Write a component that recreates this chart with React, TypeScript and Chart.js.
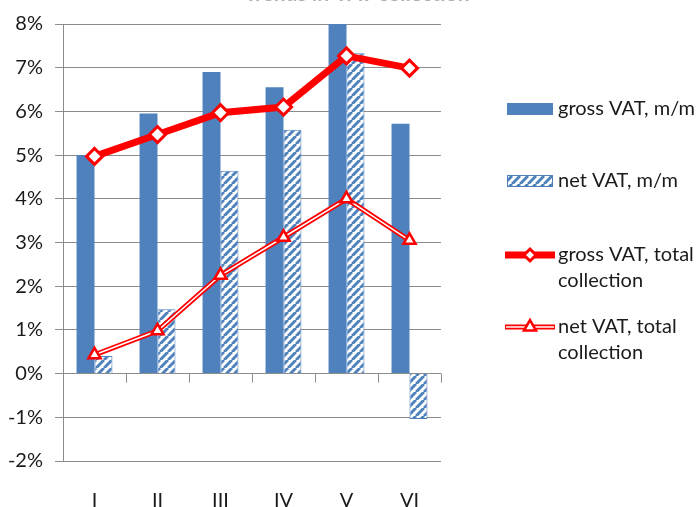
import React, { useEffect, useRef } from 'react';
import { Chart, registerables } from 'chart.js';

Chart.register(...registerables);

const categories = ['I', 'II', 'III', 'IV', 'V', 'VI'];
const grossMM = [5.0, 5.95, 6.9, 6.55, 8.0, 5.72];
const netMM = [0.4, 1.47, 4.64, 5.58, 7.33, -1.04];
const grossTotal = [4.97, 5.47, 5.97, 6.1, 7.27, 6.99];
const netTotal = [0.43, 0.98, 2.25, 3.12, 4.0, 3.05];
const seriesLabels = ['gross VAT, m/m', 'net VAT, m/m', 'gross VAT, total collection', 'net VAT, total collection'];
const legendLines = [['gross VAT, m/m'], ['net VAT, m/m'], ['gross VAT, total', 'collection'], ['net VAT, total', 'collection']];
const titleText = 'Trends in VAT collection';

const BLUE = '#4F81BD';
const RED = '#FF0000';
const GRID = '#8C8C8C';
const FONT = 'Lato';

function makeHatch(ctx: CanvasRenderingContext2D): CanvasPattern | string {
  const n = 8;
  const c = document.createElement('canvas');
  c.width = n;
  c.height = n;
  const g = c.getContext('2d');
  if (!g) return BLUE;
  g.fillStyle = '#ffffff';
  g.fillRect(0, 0, n, n);
  g.strokeStyle = BLUE;
  g.lineWidth = 3;
  for (const k of [-n, 0, n]) {
    g.beginPath();
    g.moveTo(k, n);
    g.lineTo(k + n, 0);
    g.stroke();
  }
  return ctx.createPattern(c, 'repeat') || BLUE;
}

function drawDiamond(ctx: CanvasRenderingContext2D, x: number, y: number, r: number) {
  ctx.beginPath();
  ctx.moveTo(x, y - r);
  ctx.lineTo(x + r, y);
  ctx.lineTo(x, y + r);
  ctx.lineTo(x - r, y);
  ctx.closePath();
  ctx.fillStyle = '#fff';
  ctx.fill();
  ctx.strokeStyle = RED;
  ctx.lineWidth = 3;
  ctx.stroke();
}

function drawTriangle(ctx: CanvasRenderingContext2D, x: number, y: number, r: number) {
  ctx.beginPath();
  ctx.moveTo(x, y - r);
  ctx.lineTo(x + r * 0.866, y + r * 0.5);
  ctx.lineTo(x - r * 0.866, y + r * 0.5);
  ctx.closePath();
  ctx.fillStyle = '#fff';
  ctx.fill();
  ctx.strokeStyle = RED;
  ctx.lineWidth = 2.5;
  ctx.stroke();
}

const extrasPlugin = {
  id: 'extras',
  afterDraw(chart: any) {
    const ctx: CanvasRenderingContext2D = chart.ctx;
    const xs = chart.scales.x;
    const ys = chart.scales.y;
    const area = chart.chartArea;
    ctx.save();
    const y0 = ys.getPixelForValue(0);
    ctx.strokeStyle = GRID;
    ctx.lineWidth = 1;
    for (let i = 0; i < categories.length; i++) {
      const bx = i < categories.length - 1
        ? (xs.getPixelForValue(i) + xs.getPixelForValue(i + 1)) / 2
        : area.right;
      ctx.beginPath();
      ctx.moveTo(Math.round(bx) + 0.5, y0);
      ctx.lineTo(Math.round(bx) + 0.5, y0 + 9);
      ctx.stroke();
    }
    // title (cut off at top)
    ctx.fillStyle = '#b0b0b0';
    ctx.font = `bold 21px ${FONT}`;
    ctx.textAlign = 'center';
    ctx.textBaseline = 'alphabetic';
    ctx.fillText(titleText, 357, 1);

    // legend
    const symX = 507;
    const symW = 46;
    const textX = 558;
    const rows = [109, 181, 255, 327];
    const lineH = 26;
    ctx.textAlign = 'left';
    ctx.textBaseline = 'middle';
    ctx.font = `20px ${FONT}`;
    rows.forEach((ry, i) => {
      if (i === 0) {
        ctx.fillStyle = BLUE;
        ctx.fillRect(symX, ry - 6, symW, 12);
      } else if (i === 1) {
        ctx.fillStyle = makeHatch(ctx) as any;
        ctx.fillRect(symX, ry - 6, symW, 12);
        ctx.strokeStyle = BLUE;
        ctx.lineWidth = 1;
        ctx.strokeRect(symX + 0.5, ry - 5.5, symW - 1, 11);
      } else if (i === 2) {
        ctx.strokeStyle = RED;
        ctx.lineWidth = 7;
        ctx.beginPath();
        ctx.moveTo(symX - 2, ry);
        ctx.lineTo(symX + symW + 2, ry);
        ctx.stroke();
        drawDiamond(ctx, symX + symW / 2, ry, 6);
      } else {
        ctx.strokeStyle = RED;
        ctx.lineWidth = 5;
        ctx.beginPath();
        ctx.moveTo(symX - 2, ry);
        ctx.lineTo(symX + symW + 2, ry);
        ctx.stroke();
        ctx.strokeStyle = '#fff';
        ctx.lineWidth = 1.5;
        ctx.beginPath();
        ctx.moveTo(symX - 1, ry);
        ctx.lineTo(symX + symW + 1, ry);
        ctx.stroke();
        drawTriangle(ctx, symX + symW / 2, ry, 7);
      }
      ctx.fillStyle = '#1a1a1a';
      legendLines[i].forEach((t, j) => ctx.fillText(t, textX, ry + j * lineH));
    });
    ctx.restore();
  },
};

export default function App() {
  const ref = useRef<HTMLCanvasElement>(null);
  useEffect(() => {
    const canvas = ref.current;
    if (!canvas) return;
    const ctx = canvas.getContext('2d')!;
    const hatch = makeHatch(ctx);
    const chart = new Chart(canvas, {
      type: 'bar',
      data: {
        labels: categories,
        datasets: [
          {
            type: 'bar',
            label: seriesLabels[0],
            data: grossMM,
            backgroundColor: BLUE,
            borderWidth: 0,
            categoryPercentage: 0.57,
            barPercentage: 1,
            order: 4,
          } as any,
          {
            type: 'bar',
            label: seriesLabels[1],
            data: netMM,
            backgroundColor: hatch,
            borderColor: BLUE,
            borderWidth: 1,
            categoryPercentage: 0.57,
            barPercentage: 1,
            order: 5,
          } as any,
          {
            type: 'line',
            label: seriesLabels[3] + ' outer',
            data: netTotal,
            borderColor: RED,
            borderWidth: 5,
            pointRadius: 0,
            tension: 0,
            order: 3,
          } as any,
          {
            type: 'line',
            label: seriesLabels[3],
            data: netTotal,
            borderColor: '#ffffff',
            borderWidth: 1.5,
            pointStyle: 'triangle',
            pointRadius: 7,
            pointBackgroundColor: '#ffffff',
            pointBorderColor: RED,
            pointBorderWidth: 2.5,
            tension: 0,
            order: 2,
          } as any,
          {
            type: 'line',
            label: seriesLabels[2],
            data: grossTotal,
            borderColor: RED,
            borderWidth: 7,
            pointStyle: 'rectRot',
            pointRadius: 8,
            pointBackgroundColor: '#ffffff',
            pointBorderColor: RED,
            pointBorderWidth: 3,
            tension: 0,
            order: 1,
          } as any,
        ],
      },
      options: {
        responsive: false,
        animation: false,
        layout: { padding: { top: 22, right: 258, left: 0, bottom: 0 } },
        plugins: {
          legend: { display: false },
          tooltip: { enabled: false },
          title: { display: false },
        },
        scales: {
          x: {
            type: 'category',
            offset: true,
            grid: { display: false },
            border: { display: false },
            ticks: {
              color: '#1a1a1a',
              font: { family: FONT, size: 20 },
              padding: 20,
              maxRotation: 0,
            },
            afterFit: (s: any) => { s.height = 46; },
          },
          y: {
            min: -2,
            max: 8,
            grid: { color: GRID, lineWidth: 1, tickLength: 8 },
            border: { display: true, color: GRID },
            ticks: {
              stepSize: 1,
              color: '#1a1a1a',
              font: { family: FONT, size: 20 },
              padding: 12,
              callback: (v: any) => `${v}%`,
            },
            afterFit: (s: any) => { s.width = 63; },
          },
        },
      },
      plugins: [extrasPlugin],
    });
    return () => chart.destroy();
  }, []);
  return (
    <div style={{ position: 'fixed', left: 0, top: 0, width: 699, height: 507, background: '#fff' }}>
      <canvas ref={ref} width={699} height={507} style={{ display: 'block' }} />
    </div>
  );
}
